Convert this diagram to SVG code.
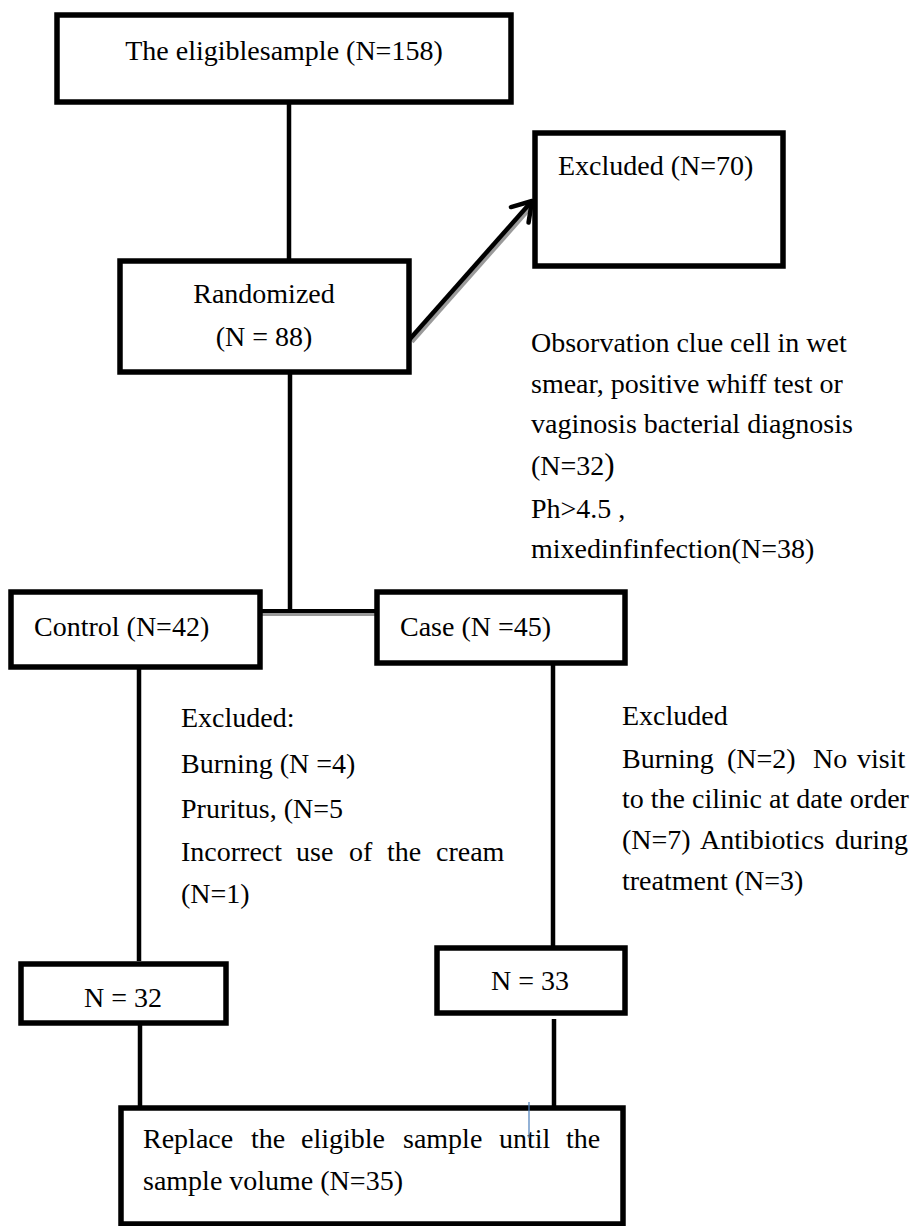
<svg xmlns="http://www.w3.org/2000/svg" width="911" height="1226" viewBox="0 0 911 1226">
<defs>
<style>
.box{fill:#fff;stroke:#000;stroke-width:5.5}
.ln{stroke:#000;stroke-width:4.5;fill:none}
text{font-family:"Liberation Serif","Times New Roman",serif;font-size:28px;fill:#000}
.c{text-anchor:middle}
</style>
<marker id="ah" markerWidth="8" markerHeight="8" refX="6.5" refY="4" orient="auto" markerUnits="strokeWidth">
<path d="M2.4,1.4 L6.5,4 L2.4,6.6" fill="none" stroke="#000" stroke-width="1" stroke-linecap="round" stroke-linejoin="round"/>
</marker>
</defs>
<rect width="911" height="1226" fill="#fff"/>
<g id="connectors">
<line class="ln" x1="289" y1="102" x2="289" y2="261"/>
<line x1="412" y1="342" x2="534" y2="204" stroke="#9a9a9a" stroke-width="4"/>
<line class="ln" x1="409" y1="340" x2="532" y2="201" marker-end="url(#ah)"/>
<line class="ln" x1="290" y1="372" x2="290" y2="612"/>
<line x1="260" y1="614" x2="376" y2="614" stroke="#999" stroke-width="4"/>
<line x1="260" y1="611" x2="376" y2="611" stroke="#000" stroke-width="4"/>
<line class="ln" x1="139" y1="667" x2="139" y2="961"/>
<line class="ln" x1="553" y1="663" x2="553" y2="947"/>
<line class="ln" x1="140" y1="1025" x2="140" y2="1106"/>
<line class="ln" x1="554" y1="1019" x2="554" y2="1110"/>
</g>
<g id="n_eligible">
<rect class="box" x="57" y="15" width="454" height="87"/>
<text class="c" x="284" y="60">The eligiblesample (N=158)</text>
</g>
<g id="n_excluded70">
<rect class="box" x="535" y="133" width="248" height="133"/>
<text x="558" y="175" font-size="26.5">Excluded (N=70)</text>
</g>
<g id="n_randomized">
<rect class="box" x="120" y="261" width="289" height="111"/>
<text class="c" x="264" y="303">Randomized</text>
<text class="c" x="264" y="346">(N = 88)</text>
</g>
<g id="t_observation">
<text x="531" y="352">Obsorvation clue cell in wet</text>
<text x="531" y="393">smear, positive whiff test or</text>
<text x="531" y="433">vaginosis bacterial diagnosis</text>
<text x="531" y="475">(N=32<tspan font-size="31">)</tspan></text>
<text x="531" y="518">Ph&gt;4.5 ,</text>
<text x="531" y="558">mixedinfinfection(N=38)</text>
</g>
<g id="n_control">
<rect class="box" x="11" y="592" width="249" height="75"/>
<text x="34" y="636">Control (N=42)</text>
</g>
<g id="n_case">
<rect class="box" x="377" y="592" width="248" height="71"/>
<text x="400" y="636">Case (N =45)</text>
</g>
<g id="t_excl_control">
<text x="181" y="727">Excluded:</text>
<text x="181" y="773">Burning (N =4)</text>
<text x="181" y="818">Pruritus, (N=5</text>
<text y="861"><tspan x="181">Incorrect</tspan><tspan x="296">use</tspan><tspan x="349">of</tspan><tspan x="387">the</tspan><tspan x="436">cream</tspan></text>
<text x="181" y="903">(N=1)</text>
</g>
<g id="t_excl_case">
<text x="622" y="725">Excluded</text>
<text y="768"><tspan x="622">Burning</tspan><tspan x="727">(N=2)</tspan><tspan x="813">No</tspan><tspan x="857">visit</tspan></text>
<text x="622" y="808">to the cilinic at date order</text>
<text y="849"><tspan x="622">(N=7)</tspan><tspan x="700">Antibiotics</tspan><tspan x="835">during</tspan></text>
<text x="622" y="890">treatment (N=3)</text>
</g>
<g id="n_n32">
<rect class="box" x="21" y="964" width="205" height="59"/>
<text class="c" x="123" y="1007">N = 32</text>
</g>
<g id="n_n33">
<rect class="box" x="437" y="948" width="188" height="65"/>
<text class="c" x="530" y="990">N = 33</text>
</g>
<g id="n_replace">
<rect class="box" x="121" y="1108" width="502" height="116"/>
<text y="1148"><tspan x="143">Replace</tspan><tspan x="251">the</tspan><tspan x="301">eligible</tspan><tspan x="403">sample</tspan><tspan x="499">until</tspan><tspan x="566">the</tspan></text>
<text x="143" y="1190">sample volume (N=35)</text>
<line x1="529" y1="1102" x2="529" y2="1138" stroke="#4a7ebb" stroke-width="1.2"/>
</g>
</svg>
